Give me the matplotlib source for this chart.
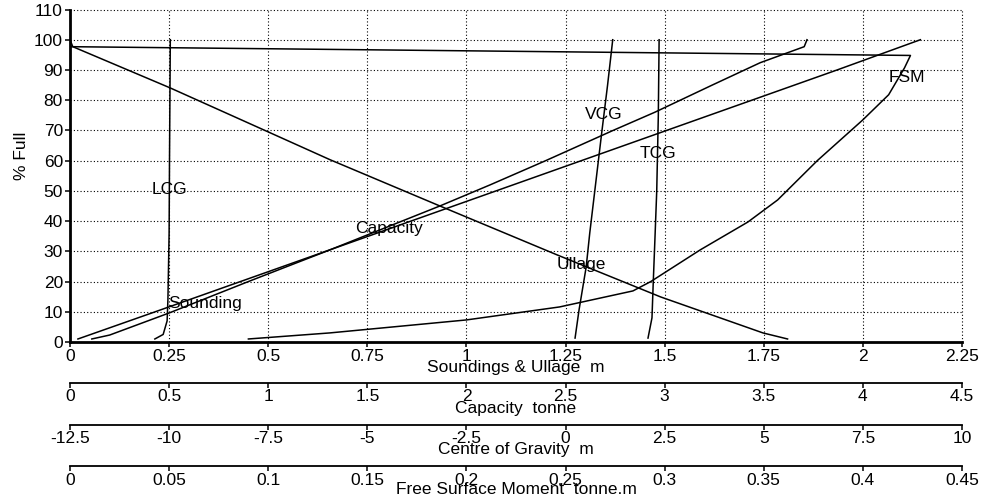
import matplotlib.pyplot as plt
import numpy as np
from matplotlib.ticker import FormatStrFormatter

plt.rcParams['font.family'] = ['Liberation Sans', 'DejaVu Sans']
plt.rcParams['font.size'] = 12.5

# Sounding / ullage (m) against % full
snd_pct = [1, 2.3, 9.6, 20, 30.5, 45, 52, 60, 70, 76, 85, 92.4, 97.7, 100]
snd_m = [0.055, 0.10, 0.25, 0.45, 0.656, 0.933, 1.06, 1.20, 1.37, 1.475, 1.62, 1.741, 1.852, 1.859]

ull_pct = [1, 3, 14.9, 28.8, 45, 60.3, 69.5, 84.1, 97.7, 100]
ull_m = [1.81, 1.748, 1.49, 1.229, 0.933, 0.656, 0.50, 0.252, 0.007, 0.0]

# Capacity (tonne)
cap_pct = [1, 10, 20, 30, 40, 50, 60, 70, 80, 90, 100]
cap_t = [0.04, 0.43, 0.86, 1.29, 1.72, 2.15, 2.58, 3.01, 3.44, 3.87, 4.29]

# Centres of gravity (m)
lcg_pct = [1, 2.5, 7, 14, 36, 60, 100]
lcg_m = [-10.36, -10.15, -10.05, -10.03, -10.0, -9.99, -9.97]

vcg_pct = [1.3, 10.6, 24.8, 36, 47, 69, 85, 100]
vcg_m = [0.24, 0.34, 0.52, 0.61, 0.71, 0.91, 1.06, 1.19]

tcg_pct = [1.3, 8, 19, 36, 50, 75, 100]
tcg_m = [2.08, 2.18, 2.21, 2.26, 2.30, 2.34, 2.36]

# Free surface moment (tonne.m)
fsm_pct = [1, 3, 7.3, 11.6, 16.9, 20, 30.5, 39.7, 47, 60, 73.5, 81.8, 90.7, 94.8, 97.7]
fsm_tm = [0.090, 0.131, 0.200, 0.247, 0.284, 0.293, 0.318, 0.342, 0.357, 0.377,
          0.400, 0.413, 0.421, 0.424, 0.0]

lw = 1.1

fig = plt.figure(figsize=(9.84, 5.03), dpi=100)
ax = fig.add_axes([70 / 984, 161 / 503, 892 / 984, 332.5 / 503])
ax.set_xlim(0, 2.25)
ax.set_ylim(0, 110)
ax.set_xticks(np.arange(0, 2.26, 0.25))
ax.set_yticks(np.arange(0, 111, 10))
ax.xaxis.set_major_formatter(FormatStrFormatter('%g'))
ax.grid(True, color='k', lw=0.8, ls=(0, (1, 2)))
for gl in ax.get_xgridlines() + ax.get_ygridlines():
    gl.set_clip_on(False)
for s in ['top', 'right']:
    ax.spines[s].set_visible(False)
for s in ['left', 'bottom']:
    ax.spines[s].set_linewidth(2.0)
ax.tick_params(direction='out', length=3.6, width=1.1, pad=1.5)
ax.set_xlabel('Soundings & Ullage  m')
ax.xaxis.set_label_coords(0.5, -0.054)
ax.set_ylabel('% Full')
ax.yaxis.set_label_coords(-0.046, 0.56)


def scale_axis(lim, step, offset, label, label_y):
    par = ax.twiny()
    par.set_xlim(*lim)
    par.set_xticks(np.arange(lim[0], lim[1] + step / 2, step))
    par.xaxis.set_major_formatter(FormatStrFormatter('%g'))
    par.xaxis.set_ticks_position('bottom')
    par.xaxis.set_label_position('bottom')
    for s in ['top', 'left', 'right']:
        par.spines[s].set_visible(False)
    par.spines['bottom'].set_position(('outward', offset))
    par.spines['bottom'].set_linewidth(1.3)
    par.tick_params(axis='x', direction='out', length=3.6, width=1.1, pad=1)
    par.set_xlabel(label)
    par.xaxis.set_label_coords(0.5, label_y)
    return par


ax_cap = scale_axis((0, 4.5), 0.5, 29.5, 'Capacity  tonne', -0.177)
ax_cog = scale_axis((-12.5, 10), 2.5, 59.8, 'Centre of Gravity  m', -0.30)
ax_fsm = scale_axis((0, 0.45), 0.05, 89.6, 'Free Surface Moment  tonne.m', -0.421)

ax.plot(snd_m, snd_pct, color='k', lw=lw)
ax.plot(ull_m, ull_pct, color='k', lw=lw)
ax_cap.plot(cap_t, cap_pct, color='k', lw=lw)
ax_cog.plot(lcg_m, lcg_pct, color='k', lw=lw)
ax_cog.plot(vcg_m, vcg_pct, color='k', lw=lw)
ax_cog.plot(tcg_m, tcg_pct, color='k', lw=lw)
ax_fsm.plot(fsm_tm, fsm_pct, color='k', lw=lw)

# curve names
kw = dict(ha='center', va='center')
ax.text(0.34, 12.9, 'Sounding', **kw)
ax.text(np.interp(25.5, ull_pct, ull_m), 25.5, 'Ullage', **kw)
ax_cap.text(np.interp(37.4, cap_pct, cap_t), 37.4, 'Capacity', **kw)
ax_cog.text(np.interp(50.3, lcg_pct, lcg_m), 50.3, 'LCG', **kw)
ax_cog.text(np.interp(75.2, vcg_pct, vcg_m), 75.2, 'VCG', **kw)
ax_cog.text(np.interp(62.5, tcg_pct, tcg_m), 62.5, 'TCG', **kw)
ax_fsm.text(0.422, 87.4, 'FSM', **kw)

fig.savefig('out.png', dpi=100)
